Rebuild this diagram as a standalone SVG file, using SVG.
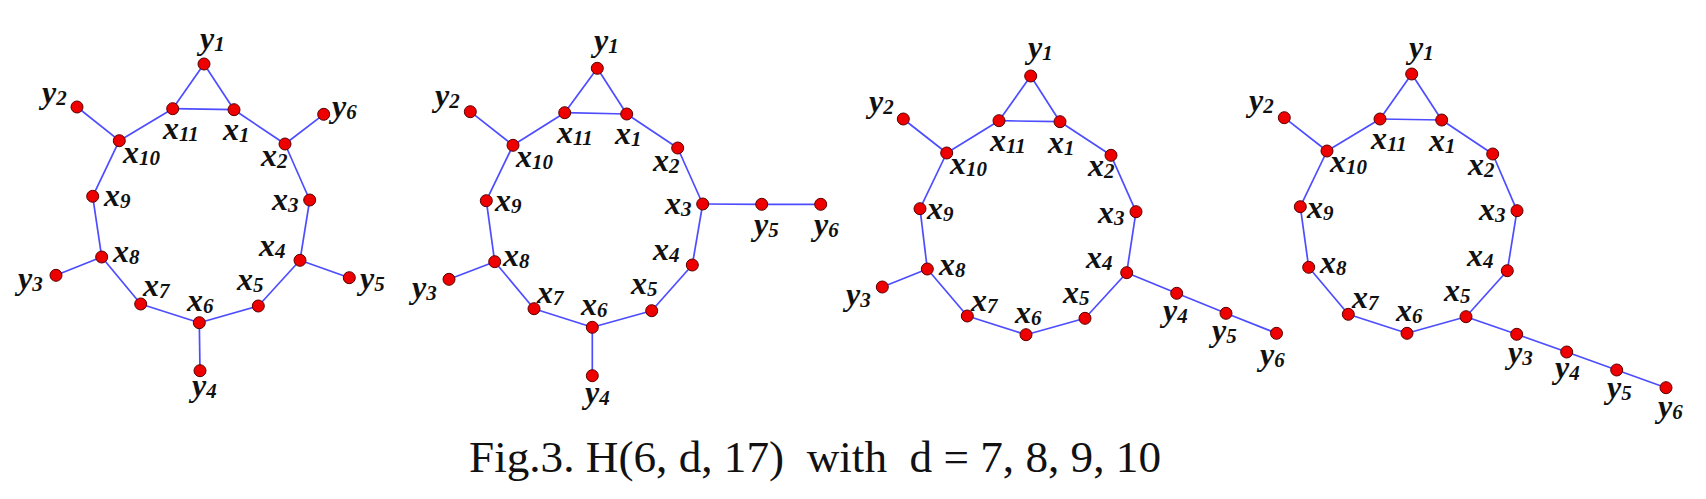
<svg xmlns="http://www.w3.org/2000/svg" width="1706" height="499" viewBox="0 0 1706 499">
<style>
.edges line{stroke:#4d4dff;stroke-width:1.7;fill:none}
.node circle{fill:#ee0000;stroke:#5a0000;stroke-width:1}
.node text{font-family:"Liberation Serif","Times New Roman",serif;font-weight:700;font-style:italic;font-size:32px;fill:#111}
.node text .s{font-size:21px}
.cap{font-family:"Liberation Serif","Times New Roman",serif;font-size:44px;fill:#111;white-space:pre}
</style>
<rect width="1706" height="499" fill="#fff"/>
<g id="connectors">
<g id="g1-edges" class="edges">
<line x1="234" y1="109.7" x2="285" y2="144"/><line x1="285" y1="144" x2="309.7" y2="200"/><line x1="309.7" y1="200" x2="300" y2="260.3"/><line x1="300" y1="260.3" x2="258.3" y2="306"/><line x1="258.3" y1="306" x2="199.3" y2="322.7"/><line x1="199.3" y1="322.7" x2="140.7" y2="304"/><line x1="140.7" y1="304" x2="101.7" y2="257"/><line x1="101.7" y1="257" x2="92.7" y2="196.3"/><line x1="92.7" y1="196.3" x2="119.3" y2="140.7"/><line x1="119.3" y1="140.7" x2="172.7" y2="108.7"/><line x1="172.7" y1="108.7" x2="234" y2="109.7"/>
<line x1="204" y1="64" x2="234" y2="109.7"/><line x1="204" y1="64" x2="172.7" y2="108.7"/>
<line x1="77" y1="107" x2="119.3" y2="140.7"/><line x1="323.7" y1="114.3" x2="285" y2="144"/><line x1="56" y1="275.3" x2="101.7" y2="257"/><line x1="349.3" y1="277.7" x2="300" y2="260.3"/><line x1="200" y1="370.7" x2="199.3" y2="322.7"/>
</g>
<g id="g2-edges" class="edges">
<line x1="626.7" y1="114" x2="677.7" y2="148"/><line x1="677.7" y1="148" x2="702.7" y2="204"/><line x1="702.7" y1="204" x2="692.3" y2="265"/><line x1="692.3" y1="265" x2="651.7" y2="310.7"/><line x1="651.7" y1="310.7" x2="592.3" y2="327.3"/><line x1="592.3" y1="327.3" x2="534" y2="308.7"/><line x1="534" y1="308.7" x2="494.7" y2="261.7"/><line x1="494.7" y1="261.7" x2="486.3" y2="200.7"/><line x1="486.3" y1="200.7" x2="513" y2="145.3"/><line x1="513" y1="145.3" x2="564.7" y2="112.7"/><line x1="564.7" y1="112.7" x2="626.7" y2="114"/>
<line x1="597.3" y1="68.3" x2="626.7" y2="114"/><line x1="597.3" y1="68.3" x2="564.7" y2="112.7"/>
<line x1="470.3" y1="111.7" x2="513" y2="145.3"/><line x1="449" y1="279.3" x2="494.7" y2="261.7"/><line x1="592.3" y1="375.7" x2="592.3" y2="327.3"/><line x1="702.7" y1="204" x2="761.7" y2="204.3"/><line x1="761.7" y1="204.3" x2="820.7" y2="204.3"/>
</g>
<g id="g3-edges" class="edges">
<line x1="1060" y1="121.7" x2="1111" y2="155.3"/><line x1="1111" y1="155.3" x2="1136" y2="211.7"/><line x1="1136" y1="211.7" x2="1126.7" y2="272.7"/><line x1="1126.7" y1="272.7" x2="1085" y2="318.3"/><line x1="1085" y1="318.3" x2="1026" y2="334.7"/><line x1="1026" y1="334.7" x2="967.3" y2="316"/><line x1="967.3" y1="316" x2="927.3" y2="269"/><line x1="927.3" y1="269" x2="920" y2="208.7"/><line x1="920" y1="208.7" x2="946.7" y2="153"/><line x1="946.7" y1="153" x2="999" y2="120.7"/><line x1="999" y1="120.7" x2="1060" y2="121.7"/>
<line x1="1030.7" y1="76" x2="1060" y2="121.7"/><line x1="1030.7" y1="76" x2="999" y2="120.7"/>
<line x1="903.3" y1="119" x2="946.7" y2="153"/><line x1="882.3" y1="287" x2="927.3" y2="269"/><line x1="1126.7" y1="272.7" x2="1176.7" y2="293.3"/><line x1="1176.7" y1="293.3" x2="1226" y2="313.3"/><line x1="1226" y1="313.3" x2="1276.5" y2="333.3"/>
</g>
<g id="g4-edges" class="edges">
<line x1="1441.7" y1="120" x2="1492.7" y2="154"/><line x1="1492.7" y1="154" x2="1517" y2="210.7"/><line x1="1517" y1="210.7" x2="1507.3" y2="270.7"/><line x1="1507.3" y1="270.7" x2="1466" y2="316.7"/><line x1="1466" y1="316.7" x2="1407" y2="333.3"/><line x1="1407" y1="333.3" x2="1348.3" y2="314.3"/><line x1="1348.3" y1="314.3" x2="1308.7" y2="267.3"/><line x1="1308.7" y1="267.3" x2="1300.3" y2="206.7"/><line x1="1300.3" y1="206.7" x2="1327" y2="151"/><line x1="1327" y1="151" x2="1380" y2="119"/><line x1="1380" y1="119" x2="1441.7" y2="120"/>
<line x1="1411.7" y1="74" x2="1441.7" y2="120"/><line x1="1411.7" y1="74" x2="1380" y2="119"/>
<line x1="1284.3" y1="117.7" x2="1327" y2="151"/><line x1="1466" y1="316.7" x2="1516.7" y2="334.3"/><line x1="1516.7" y1="334.3" x2="1566.7" y2="352"/><line x1="1566.7" y1="352" x2="1616.7" y2="370"/><line x1="1616.7" y1="370" x2="1666" y2="387.7"/>
</g>
</g>

<g id="graph1">
<g id="g1-y1" class="node"><circle cx="204" cy="64" r="6"/><text x="200" y="49">y<tspan class="s" dy="2">1</tspan></text></g>
<g id="g1-x11" class="node"><circle cx="172.7" cy="108.7" r="6"/><text x="163" y="139">x<tspan class="s" dy="2">11</tspan></text></g>
<g id="g1-x1" class="node"><circle cx="234" cy="109.7" r="6"/><text x="223" y="140">x<tspan class="s" dy="2">1</tspan></text></g>
<g id="g1-y2" class="node"><circle cx="77" cy="107" r="6"/><text x="42" y="103">y<tspan class="s" dy="2">2</tspan></text></g>
<g id="g1-y6" class="node"><circle cx="323.7" cy="114.3" r="6"/><text x="332" y="117">y<tspan class="s" dy="2">6</tspan></text></g>
<g id="g1-x10" class="node"><circle cx="119.3" cy="140.7" r="6"/><text x="123" y="163">x<tspan class="s" dy="2">10</tspan></text></g>
<g id="g1-x2" class="node"><circle cx="285" cy="144" r="6"/><text x="261" y="166">x<tspan class="s" dy="2">2</tspan></text></g>
<g id="g1-x9" class="node"><circle cx="92.7" cy="196.3" r="6"/><text x="104" y="206">x<tspan class="s" dy="2">9</tspan></text></g>
<g id="g1-x3" class="node"><circle cx="309.7" cy="200" r="6"/><text x="272" y="210">x<tspan class="s" dy="2">3</tspan></text></g>
<g id="g1-x8" class="node"><circle cx="101.7" cy="257" r="6"/><text x="113" y="262">x<tspan class="s" dy="2">8</tspan></text></g>
<g id="g1-x4" class="node"><circle cx="300" cy="260.3" r="6"/><text x="259" y="256">x<tspan class="s" dy="2">4</tspan></text></g>
<g id="g1-y3" class="node"><circle cx="56" cy="275.3" r="6"/><text x="18" y="289">y<tspan class="s" dy="2">3</tspan></text></g>
<g id="g1-y5" class="node"><circle cx="349.3" cy="277.7" r="6"/><text x="360" y="289">y<tspan class="s" dy="2">5</tspan></text></g>
<g id="g1-x7" class="node"><circle cx="140.7" cy="304" r="6"/><text x="143" y="296">x<tspan class="s" dy="2">7</tspan></text></g>
<g id="g1-x5" class="node"><circle cx="258.3" cy="306" r="6"/><text x="237" y="290">x<tspan class="s" dy="2">5</tspan></text></g>
<g id="g1-x6" class="node"><circle cx="199.3" cy="322.7" r="6"/><text x="187" y="311">x<tspan class="s" dy="2">6</tspan></text></g>
<g id="g1-y4" class="node"><circle cx="200" cy="370.7" r="6"/><text x="192" y="396">y<tspan class="s" dy="2">4</tspan></text></g>
</g>

<g id="graph2">
<g id="g2-y1" class="node"><circle cx="597.3" cy="68.3" r="6"/><text x="594" y="51">y<tspan class="s" dy="2">1</tspan></text></g>
<g id="g2-x11" class="node"><circle cx="564.7" cy="112.7" r="6"/><text x="557" y="143">x<tspan class="s" dy="2">11</tspan></text></g>
<g id="g2-x1" class="node"><circle cx="626.7" cy="114" r="6"/><text x="615" y="144">x<tspan class="s" dy="2">1</tspan></text></g>
<g id="g2-y2" class="node"><circle cx="470.3" cy="111.7" r="6"/><text x="435" y="106">y<tspan class="s" dy="2">2</tspan></text></g>
<g id="g2-x10" class="node"><circle cx="513" cy="145.3" r="6"/><text x="516" y="167">x<tspan class="s" dy="2">10</tspan></text></g>
<g id="g2-x2" class="node"><circle cx="677.7" cy="148" r="6"/><text x="653" y="171">x<tspan class="s" dy="2">2</tspan></text></g>
<g id="g2-x9" class="node"><circle cx="486.3" cy="200.7" r="6"/><text x="495" y="211">x<tspan class="s" dy="2">9</tspan></text></g>
<g id="g2-x3" class="node"><circle cx="702.7" cy="204" r="6"/><text x="665" y="214">x<tspan class="s" dy="2">3</tspan></text></g>
<g id="g2-y5" class="node"><circle cx="761.7" cy="204.3" r="6"/><text x="754" y="235">y<tspan class="s" dy="2">5</tspan></text></g>
<g id="g2-y6" class="node"><circle cx="820.7" cy="204.3" r="6"/><text x="814" y="235">y<tspan class="s" dy="2">6</tspan></text></g>
<g id="g2-x8" class="node"><circle cx="494.7" cy="261.7" r="6"/><text x="503" y="266">x<tspan class="s" dy="2">8</tspan></text></g>
<g id="g2-x4" class="node"><circle cx="692.3" cy="265" r="6"/><text x="653" y="260">x<tspan class="s" dy="2">4</tspan></text></g>
<g id="g2-y3" class="node"><circle cx="449" cy="279.3" r="6"/><text x="412" y="298">y<tspan class="s" dy="2">3</tspan></text></g>
<g id="g2-x7" class="node"><circle cx="534" cy="308.7" r="6"/><text x="537" y="303">x<tspan class="s" dy="2">7</tspan></text></g>
<g id="g2-x5" class="node"><circle cx="651.7" cy="310.7" r="6"/><text x="631" y="294">x<tspan class="s" dy="2">5</tspan></text></g>
<g id="g2-x6" class="node"><circle cx="592.3" cy="327.3" r="6"/><text x="581" y="315">x<tspan class="s" dy="2">6</tspan></text></g>
<g id="g2-y4" class="node"><circle cx="592.3" cy="375.7" r="6"/><text x="585" y="403">y<tspan class="s" dy="2">4</tspan></text></g>
</g>

<g id="graph3">
<g id="g3-y1" class="node"><circle cx="1030.7" cy="76" r="6"/><text x="1028" y="58">y<tspan class="s" dy="2">1</tspan></text></g>
<g id="g3-x11" class="node"><circle cx="999" cy="120.7" r="6"/><text x="990" y="151">x<tspan class="s" dy="2">11</tspan></text></g>
<g id="g3-x1" class="node"><circle cx="1060" cy="121.7" r="6"/><text x="1048" y="153">x<tspan class="s" dy="2">1</tspan></text></g>
<g id="g3-y2" class="node"><circle cx="903.3" cy="119" r="6"/><text x="869" y="112">y<tspan class="s" dy="2">2</tspan></text></g>
<g id="g3-x10" class="node"><circle cx="946.7" cy="153" r="6"/><text x="950" y="174">x<tspan class="s" dy="2">10</tspan></text></g>
<g id="g3-x2" class="node"><circle cx="1111" cy="155.3" r="6"/><text x="1088" y="176">x<tspan class="s" dy="2">2</tspan></text></g>
<g id="g3-x9" class="node"><circle cx="920" cy="208.7" r="6"/><text x="927" y="219">x<tspan class="s" dy="2">9</tspan></text></g>
<g id="g3-x3" class="node"><circle cx="1136" cy="211.7" r="6"/><text x="1098" y="223">x<tspan class="s" dy="2">3</tspan></text></g>
<g id="g3-x8" class="node"><circle cx="927.3" cy="269" r="6"/><text x="939" y="275">x<tspan class="s" dy="2">8</tspan></text></g>
<g id="g3-x4" class="node"><circle cx="1126.7" cy="272.7" r="6"/><text x="1086" y="268">x<tspan class="s" dy="2">4</tspan></text></g>
<g id="g3-y3" class="node"><circle cx="882.3" cy="287" r="6"/><text x="846" y="305">y<tspan class="s" dy="2">3</tspan></text></g>
<g id="g3-x7" class="node"><circle cx="967.3" cy="316" r="6"/><text x="971" y="311">x<tspan class="s" dy="2">7</tspan></text></g>
<g id="g3-x5" class="node"><circle cx="1085" cy="318.3" r="6"/><text x="1063" y="303">x<tspan class="s" dy="2">5</tspan></text></g>
<g id="g3-x6" class="node"><circle cx="1026" cy="334.7" r="6"/><text x="1015" y="323">x<tspan class="s" dy="2">6</tspan></text></g>
<g id="g3-y4" class="node"><circle cx="1176.7" cy="293.3" r="6"/><text x="1163" y="321">y<tspan class="s" dy="2">4</tspan></text></g>
<g id="g3-y5" class="node"><circle cx="1226" cy="313.3" r="6"/><text x="1212" y="341">y<tspan class="s" dy="2">5</tspan></text></g>
<g id="g3-y6" class="node"><circle cx="1276.5" cy="333.3" r="6"/><text x="1260" y="365">y<tspan class="s" dy="2">6</tspan></text></g>
</g>

<g id="graph4">
<g id="g4-y1" class="node"><circle cx="1411.7" cy="74" r="6"/><text x="1409" y="58">y<tspan class="s" dy="2">1</tspan></text></g>
<g id="g4-x11" class="node"><circle cx="1380" cy="119" r="6"/><text x="1371" y="149">x<tspan class="s" dy="2">11</tspan></text></g>
<g id="g4-x1" class="node"><circle cx="1441.7" cy="120" r="6"/><text x="1429" y="151">x<tspan class="s" dy="2">1</tspan></text></g>
<g id="g4-y2" class="node"><circle cx="1284.3" cy="117.7" r="6"/><text x="1249" y="111">y<tspan class="s" dy="2">2</tspan></text></g>
<g id="g4-x10" class="node"><circle cx="1327" cy="151" r="6"/><text x="1330" y="172">x<tspan class="s" dy="2">10</tspan></text></g>
<g id="g4-x2" class="node"><circle cx="1492.7" cy="154" r="6"/><text x="1468" y="175">x<tspan class="s" dy="2">2</tspan></text></g>
<g id="g4-x9" class="node"><circle cx="1300.3" cy="206.7" r="6"/><text x="1307" y="218">x<tspan class="s" dy="2">9</tspan></text></g>
<g id="g4-x3" class="node"><circle cx="1517" cy="210.7" r="6"/><text x="1479" y="220">x<tspan class="s" dy="2">3</tspan></text></g>
<g id="g4-x8" class="node"><circle cx="1308.7" cy="267.3" r="6"/><text x="1320" y="273">x<tspan class="s" dy="2">8</tspan></text></g>
<g id="g4-x4" class="node"><circle cx="1507.3" cy="270.7" r="6"/><text x="1467" y="266">x<tspan class="s" dy="2">4</tspan></text></g>
<g id="g4-x7" class="node"><circle cx="1348.3" cy="314.3" r="6"/><text x="1352" y="308">x<tspan class="s" dy="2">7</tspan></text></g>
<g id="g4-x5" class="node"><circle cx="1466" cy="316.7" r="6"/><text x="1444" y="301">x<tspan class="s" dy="2">5</tspan></text></g>
<g id="g4-x6" class="node"><circle cx="1407" cy="333.3" r="6"/><text x="1396" y="321">x<tspan class="s" dy="2">6</tspan></text></g>
<g id="g4-y3" class="node"><circle cx="1516.7" cy="334.3" r="6"/><text x="1508" y="363">y<tspan class="s" dy="2">3</tspan></text></g>
<g id="g4-y4" class="node"><circle cx="1566.7" cy="352" r="6"/><text x="1555" y="378">y<tspan class="s" dy="2">4</tspan></text></g>
<g id="g4-y5" class="node"><circle cx="1616.7" cy="370" r="6"/><text x="1607" y="398">y<tspan class="s" dy="2">5</tspan></text></g>
<g id="g4-y6" class="node"><circle cx="1666" cy="387.7" r="6"/><text x="1658" y="417">y<tspan class="s" dy="2">6</tspan></text></g>
</g>

<text id="caption" class="cap" x="469" y="472" textLength="692" lengthAdjust="spacingAndGlyphs" xml:space="preserve">Fig.3. H(6, d, 17)  with  d = 7, 8, 9, 10</text>
</svg>
